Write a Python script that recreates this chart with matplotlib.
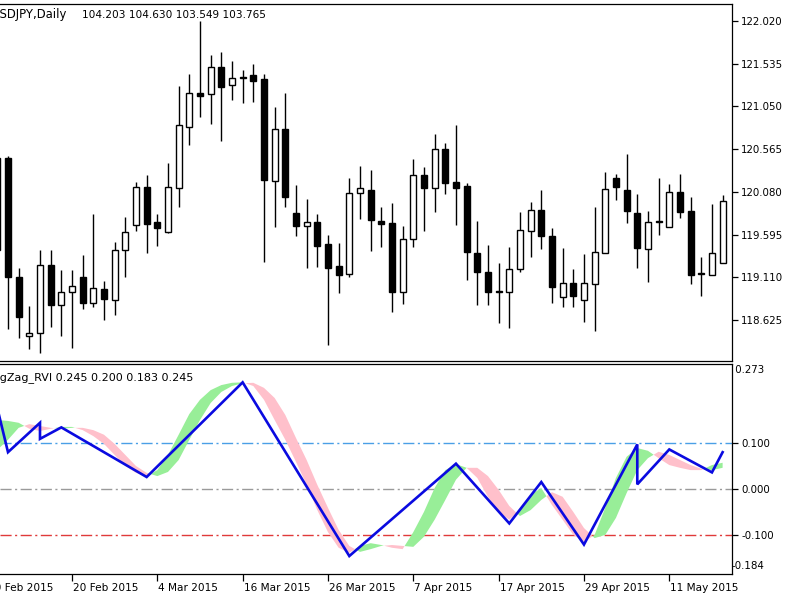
import numpy as np
import pandas as pd
import matplotlib
matplotlib.use("Agg")
import matplotlib.pyplot as plt
from matplotlib.transforms import blended_transform_factory

plt.rcParams['font.family'] = ['DejaVu Sans']

# ---------------- data ----------------
dates = pd.bdate_range('2015-02-11', periods=69)

opens = [119.421,120.465,119.114,118.444,118.479,119.250,118.796,118.944,119.114,118.819,
         118.978,118.853,119.421,119.704,120.136,119.738,119.625,120.124,120.817,121.203,
         121.191,121.498,121.294,121.384,121.407,121.362,120.204,120.794,119.841,119.693,
         119.738,119.489,119.239,119.148,120.068,120.102,119.750,119.727,118.944,119.545,
         120.272,120.124,120.567,120.192,120.147,119.387,119.171,118.955,118.944,119.205,
         119.636,119.875,119.580,118.887,119.046,118.853,119.035,119.387,120.238,120.102,
         119.841,119.432,119.750,119.682,120.079,119.863,119.159,119.137,119.273]
highs = [120.612,120.488,119.216,118.785,119.421,119.421,119.194,119.194,119.364,119.829,
         119.069,119.511,119.795,120.192,120.272,119.829,120.408,121.282,121.418,122.020,
         121.634,121.668,121.566,121.464,121.532,121.418,121.044,121.203,120.158,120.000,
         119.829,119.591,119.500,120.238,120.374,120.329,119.909,119.954,119.693,120.454,
         120.363,120.737,120.635,120.839,120.181,119.750,119.477,119.273,119.455,119.852,
         119.965,120.102,119.670,119.443,119.205,119.375,119.909,120.306,120.283,120.510,
         120.056,119.863,120.238,120.170,120.283,120.022,119.341,119.943,120.045]
lows = [119.364,118.524,118.422,118.297,118.251,118.547,118.444,118.308,118.751,118.774,
        118.626,118.683,119.114,119.636,119.387,119.466,119.614,119.909,120.612,120.930,
        120.851,120.658,121.123,121.089,121.101,119.284,119.682,119.909,119.580,119.216,
        119.228,118.342,118.933,119.114,119.773,119.409,119.455,118.717,118.808,119.455,
        119.636,119.852,120.056,119.704,119.080,118.796,118.796,118.592,118.535,119.171,
        119.341,119.432,118.819,118.774,118.774,118.603,118.501,119.387,119.988,119.727,
        119.216,119.057,119.591,119.682,119.784,119.035,118.898,119.137,119.273]
closes = [120.465,119.114,118.660,118.479,119.250,118.796,118.944,119.012,118.819,118.989,
          118.864,119.421,119.625,120.136,119.716,119.670,120.136,120.839,121.203,121.169,
          121.498,121.271,121.373,121.373,121.339,120.215,120.794,120.022,119.693,119.738,
          119.466,119.216,119.137,120.068,120.124,119.761,119.716,118.944,119.545,120.272,
          120.124,120.567,120.181,120.124,119.398,119.171,118.944,118.944,119.205,119.648,
          119.875,119.580,119.001,119.046,118.898,119.046,119.398,120.113,120.136,119.863,
          119.443,119.738,119.738,120.079,119.852,119.137,119.148,119.387,119.977]

rvi_main = [0.150,0.148,0.144,0.131,0.126,0.131,0.135,0.135,0.128,0.115,
            0.098,0.074,0.050,0.035,0.028,0.041,0.074,0.118,0.163,0.194,
            0.215,0.226,0.231,0.232,0.224,0.194,0.150,0.107,0.059,0.009,
            -0.046,-0.094,-0.128,-0.139,-0.124,-0.118,-0.122,-0.128,-0.131,-0.094,
            -0.050,0.002,0.041,0.054,0.046,0.024,-0.017,-0.050,-0.067,-0.046,
            -0.013,0.002,-0.035,-0.067,-0.100,-0.115,-0.100,-0.041,0.024,0.070,
            0.089,0.083,0.067,0.052,0.046,0.041,0.041,0.052,0.057]
rvi_signal = [0.085,0.107,0.133,0.141,0.137,0.133,0.131,0.133,0.133,0.128,
              0.118,0.098,0.074,0.050,0.035,0.028,0.037,0.063,0.107,0.150,
              0.187,0.211,0.224,0.230,0.231,0.220,0.198,0.161,0.111,0.063,
              0.009,-0.041,-0.089,-0.124,-0.137,-0.131,-0.124,-0.122,-0.124,-0.126,
              -0.104,-0.067,-0.024,0.020,0.046,0.046,0.028,-0.002,-0.037,-0.059,
              -0.046,-0.024,-0.007,-0.017,-0.050,-0.085,-0.107,-0.100,-0.063,-0.009,
              0.041,0.067,0.081,0.074,0.063,0.052,0.044,0.041,0.046]

zz_bar = [0, 1, 4, 4, 6, 14, 23, 33, 43, 48, 51, 55, 60, 60, 63, 67, 68]
zz_val = [0.176, 0.080, 0.144, 0.109, 0.134, 0.026, 0.232, -0.146, 0.055, -0.075,
          0.015, -0.121, 0.097, 0.010, 0.086, 0.036, 0.080]

price_ticks = [122.020, 121.535, 121.050, 120.565, 120.080, 119.595, 119.110, 118.625]
level_values = [0.100, 0.000, -0.100]
level_colors = ['#4a9fe6', '#9a9a9a', '#e03a3a']
ind_max, ind_min = 0.273, -0.184

xtick_bars = [-1, 7, 15, 23, 31, 39, 47, 55, 63]
xtick_labels = ["10 Feb 2015", "20 Feb 2015", "4 Mar 2015", "16 Mar 2015", "26 Mar 2015",
                "7 Apr 2015", "17 Apr 2015", "29 Apr 2015", "11 May 2015"]

symbol_text = "USDJPY,Daily"
ohlc_text = "104.203 104.630 103.549 103.765"
ind_header = "ZigZag_RVI 0.245 0.200 0.183 0.245"

# ---------------- figure ----------------
W, H = 800, 600
fig = plt.figure(figsize=(8, 6), dpi=100)
fig.patch.set_facecolor('white')

def fx(px):
    return px / W

def fy(py):
    return 1 - py / H

right_px = 732
ax = fig.add_axes([0, fy(361), fx(right_px), fy(4) - fy(361)])
ax2 = fig.add_axes([0, fy(573.5), fx(right_px), fy(363.5) - fy(573.5)])

n = len(opens)
x = np.arange(n)
o = np.array(opens); h = np.array(highs); l = np.array(lows); c = np.array(closes)

xl = (0.25, 68.88)
for a in (ax, ax2):
    a.set_xlim(*xl)
    a.spines['left'].set_visible(False)
    for s in ('top', 'right', 'bottom'):
        a.spines[s].set_color('black')
        a.spines[s].set_linewidth(0.9)
    a.set_facecolor('white')

# candles
ax.vlines(x, l, h, color='black', lw=1.0, zorder=1)
up = c >= o
body_bottom = np.minimum(o, c)
body_h = np.maximum(np.abs(c - o), 0.004)
ax.bar(x[up], body_h[up], bottom=body_bottom[up], width=0.56, color='white',
       edgecolor='black', linewidth=1.0, zorder=2)
ax.bar(x[~up], body_h[~up], bottom=body_bottom[~up], width=0.56, color='black',
       edgecolor='black', linewidth=1.0, zorder=2)

ax.set_ylim(118.161, 122.213)
ax.yaxis.tick_right()
ax.set_yticks(price_ticks)
ax.set_yticklabels([f"{v:.3f}" for v in price_ticks])
ax.tick_params(axis='y', length=4, width=0.9, pad=2.5, labelsize=7.4, colors='black')
ax.set_xticks([])

# indicator
rm = np.array(rvi_main); rs = np.array(rvi_signal)
ax2.fill_between(x, rm, rs, where=rm >= rs, interpolate=True, color='#98ee98', lw=0, zorder=1)
ax2.fill_between(x, rm, rs, where=rm < rs, interpolate=True, color='#ffc0cb', lw=0, zorder=1)
for v, col in zip(level_values, level_colors):
    ax2.axhline(v, color=col, lw=1.0, ls=(0, (8, 2.5, 1.5, 2.5)), zorder=0.5)
ax2.plot(zz_bar, zz_val, color='#0a0ae0', lw=1.9, zorder=3, solid_joinstyle='miter')
ax2.set_ylim(ind_min, ind_max)
ax2.yaxis.tick_right()
ax2.set_yticks(level_values)
ax2.set_yticklabels([f"{v:.3f}" for v in level_values])
ax2.tick_params(axis='y', length=4, width=0.9, pad=2.5, labelsize=7.4, colors='black')
# top / bottom scale values
ax2.text(1.0, 0.995, f" {ind_max:.3f}", transform=ax2.transAxes, ha='left', va='top',
         fontsize=7.4, clip_on=False)
ax2.text(1.0, 0.01, f"{ind_min:.3f}", transform=ax2.transAxes, ha='left', va='bottom',
         fontsize=7.4, clip_on=False)

# x ticks
ax2.set_xticks([b for b in xtick_bars if xl[0] <= b <= xl[1]])
ax2.set_xticklabels([])
ax2.tick_params(axis='x', length=5, width=0.9, direction='out')
tr = blended_transform_factory(ax2.transData, ax2.transAxes)
for b, lab in zip(xtick_bars, xtick_labels):
    ax2.text(b + 0.1, -0.045, lab, transform=tr, ha='left', va='top', fontsize=7.6,
             clip_on=False)

# headers cut at the left edge
fig.canvas.draw()
r = fig.canvas.get_renderer()

def cut_text(full, cut, ypx, size):
    t = fig.text(0, 0, cut, fontsize=size)
    w = t.get_window_extent(r).width
    t.remove()
    fig.text(-w / W, fy(ypx), full, fontsize=size, ha='left', va='baseline')

cut_text(symbol_text, "U", 18, 8.4)
fig.text(fx(82.5), fy(18), ohlc_text, fontsize=7.6, ha='left', va='baseline')
cut_text(ind_header, "Zi", 380, 8.0)

fig.savefig("out.png", dpi=100, facecolor='white')
